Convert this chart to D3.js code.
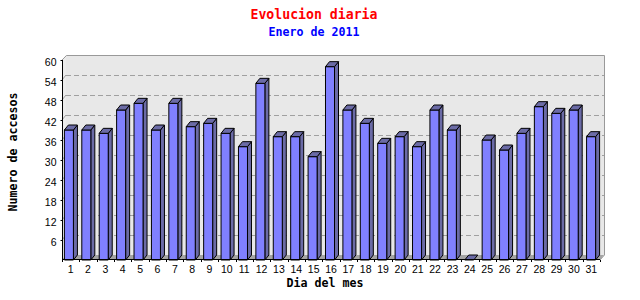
<!DOCTYPE html>
<html>
<head>
<meta charset="utf-8">
<script src="https://cdn.jsdelivr.net/npm/d3@7/dist/d3.min.js"></script>
<style>
  html, body { margin: 0; padding: 0; background: #fff; }
  svg { display: block; }
</style>
</head>
<body>
<svg id="chart" width="640" height="300"></svg>
<script>
const days = d3.range(1, 32).map(String);
const accesos = [39, 39, 38, 45, 47, 39, 47, 40, 41, 38, 34, 53, 37, 37, 31, 58,
                 45, 41, 35, 37, 34, 45, 39, 0, 36, 33, 38, 46, 44, 45, 37];
const yTicks = [6, 12, 18, 24, 30, 36, 42, 48, 54, 60];
const title = "Evolucion diaria";
const subtitle = "Enero de 2011";
const xTitle = "Dia del mes";
const yTitle = "Numero de accesos";

const svg = d3.select("#chart");
const DX = 4, DY = 5;
const monoBold = "'DejaVu Sans Mono', monospace";
const sans = "'Liberation Sans', Arial, sans-serif";

const y = d3.scaleLinear().domain([0, 60]).range([260, 60]);
const xAxisScale = d3.scaleBand().domain(days).range([62, 600]).padding(0);
const xBar = d3.scaleBand().domain(days).range([60, 604]).padding(0.253);

const x0 = 62, x1 = 600, yb = y(0), yt = y(60);

// back wall
svg.append("rect").attr("x", x0 + DX).attr("y", yt - DY)
  .attr("width", x1 - x0).attr("height", yb - yt)
  .attr("fill", "#e8e8e8");
// left wall
svg.append("polygon")
  .attr("points", [[x0, yt], [x0 + DX, yt - DY], [x0 + DX, yb - DY], [x0, yb]].join(" "))
  .attr("fill", "#ececec");
// floor
svg.append("polygon")
  .attr("points", [[x0, yb], [x0 + DX, yb - DY], [x1 + DX, yb - DY], [x1, yb]].join(" "))
  .attr("fill", "#a4a4a4");

// gridlines
yTicks.filter(t => t < 60).forEach(t => {
  svg.append("line").attr("x1", x0).attr("y1", y(t)).attr("x2", x0 + DX).attr("y2", y(t) - DY)
    .attr("stroke", "#a0a0a0").attr("stroke-width", 1);
  svg.append("line").attr("x1", x0 + DX).attr("y1", Math.round(y(t) - DY) + 0.5)
    .attr("x2", x1 + DX).attr("y2", Math.round(y(t) - DY) + 0.5)
    .attr("stroke", "#a0a0a0").attr("stroke-width", 1).attr("stroke-dasharray", "5,3");
});

// wall border
svg.append("path")
  .attr("d", `M${x0},${yt} L${x0 + DX + 0.5},${yt - DY + 0.5} L${x1 + DX + 0.5},${yt - DY + 0.5} L${x1 + DX + 0.5},${yb - DY} L${x1},${yb}`)
  .attr("fill", "none").attr("stroke", "#999").attr("stroke-width", 1);

// bars
const bw = xBar.bandwidth() - DX;
const bars = svg.append("g");
days.forEach((d, i) => {
  const v = accesos[i];
  const bx = xBar(d), by = y(v);
  const g = bars.append("g").attr("stroke", "#000").attr("stroke-width", 1).attr("stroke-linejoin", "round");
  if (v > 0) {
    g.append("polygon")
      .attr("points", [[bx + bw, by], [bx + bw + DX, by - DY], [bx + bw + DX, yb - DY], [bx + bw, yb]].join(" "))
      .attr("fill", "#6b6ba6");
    g.append("rect").attr("x", bx).attr("y", by).attr("width", bw).attr("height", yb - by)
      .attr("fill", "#8080ff");
  }
  g.append("polygon")
    .attr("points", [[bx, by], [bx + DX, by - DY], [bx + bw + DX, by - DY], [bx + bw, by]].join(" "))
    .attr("fill", "#6b6ba6");
});

// axes
const yAxis = d3.axisLeft(y).tickValues(yTicks).tickSize(2).tickPadding(4);
const gy = svg.append("g").attr("transform", `translate(${x0 + 0.5},0)`).call(yAxis);
gy.select(".domain").attr("d", `M0,${yt}V${yb}`).attr("stroke", "#000");
gy.selectAll(".tick line").attr("stroke", "#000");
gy.selectAll("text").attr("font-family", sans).attr("font-size", "10.5px").attr("fill", "#000").attr("dy", "0.52em");

svg.append("line").attr("x1", x0).attr("x2", x1).attr("y1", yb - 0.5).attr("y2", yb - 0.5).attr("stroke", "#000");
days.concat(["end"]).forEach((d, i) => {
  const tx = d === "end" ? x1 : xAxisScale(d);
  svg.append("line").attr("x1", Math.round(tx) + 0.5).attr("x2", Math.round(tx) + 0.5)
    .attr("y1", yb).attr("y2", yb + 2).attr("stroke", "#000");
});
svg.append("g").selectAll("text").data(days).join("text")
  .attr("x", d => xAxisScale(d) + xAxisScale.bandwidth() / 2)
  .attr("y", 273)
  .attr("text-anchor", "middle")
  .attr("font-family", sans).attr("font-size", "10.5px").attr("fill", "#000")
  .text(d => d);

// titles
svg.append("text").attr("x", 314).attr("y", 19).attr("text-anchor", "middle")
  .attr("font-family", monoBold).attr("font-weight", "bold").attr("font-size", "13.5px")
  .attr("fill", "#ff0000").attr("textLength", 127).attr("lengthAdjust", "spacingAndGlyphs").text(title);
svg.append("text").attr("x", 314).attr("y", 36).attr("text-anchor", "middle")
  .attr("font-family", monoBold).attr("font-weight", "bold").attr("font-size", "11.5px")
  .attr("fill", "#0000ff").attr("textLength", 91).attr("lengthAdjust", "spacingAndGlyphs").text(subtitle);
svg.append("text").attr("x", 325).attr("y", 286.5).attr("text-anchor", "middle")
  .attr("font-family", monoBold).attr("font-weight", "bold").attr("font-size", "11.5px")
  .attr("fill", "#000").attr("textLength", 77).attr("lengthAdjust", "spacingAndGlyphs").text(xTitle);
svg.append("text").attr("transform", "translate(16.5,152) rotate(-90)").attr("text-anchor", "middle")
  .attr("font-family", monoBold).attr("font-weight", "bold").attr("font-size", "11.5px")
  .attr("fill", "#000").attr("textLength", 119).attr("lengthAdjust", "spacingAndGlyphs").text(yTitle);
</script>
</body>
</html>
